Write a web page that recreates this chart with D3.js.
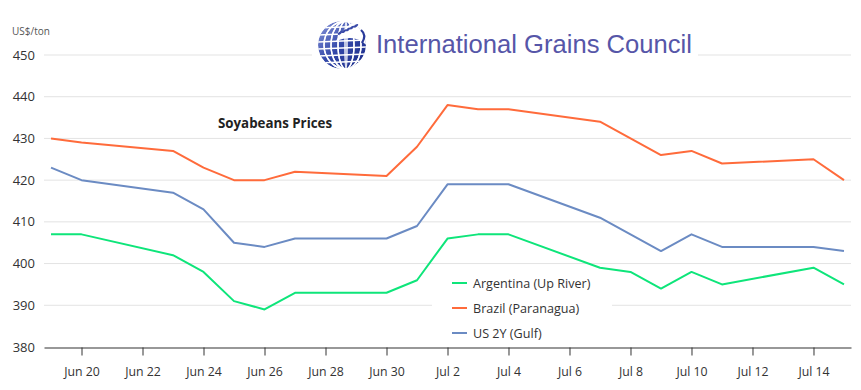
<!DOCTYPE html>
<html><head><meta charset="utf-8">
<script src="https://cdn.jsdelivr.net/npm/d3@7"></script>
<style>
body{margin:0;background:#fff;}
svg{display:block;font-family:"Open Sans","Noto Sans",sans-serif;}
</style></head>
<body><svg id="c" width="861" height="390"></svg>
<script>
const dates = ["2023-06-19","2023-06-20","2023-06-23","2023-06-24","2023-06-25","2023-06-26","2023-06-27","2023-06-30","2023-07-01","2023-07-02","2023-07-03","2023-07-04","2023-07-07","2023-07-08","2023-07-09","2023-07-10","2023-07-11","2023-07-14","2023-07-15"];
const argentina = [407,407,402,398,391,389,393,393,396,406,407,407,399,398,394,398,395,399,395];
const brazil    = [430,429,427,423,420,420,422,421,428,438,437,437,434,430,426,427,424,425,420];
const us2y      = [423,420,417,413,405,404,406,406,409,419,419,419,411,407,403,407,404,404,403];
const seriesNames = ["Argentina (Up River)","Brazil (Paranagua)","US 2Y (Gulf)"];
const seriesColors = ["#0ee57a","#ff6b3b","#6b8bc3"];
const yTicks = [380,390,400,410,420,430,440,450];
const xTickDates = ["2023-06-20","2023-06-22","2023-06-24","2023-06-26","2023-06-28","2023-06-30","2023-07-02","2023-07-04","2023-07-06","2023-07-08","2023-07-10","2023-07-12","2023-07-14"];
const titleText = "Soyabeans Prices";
const unitText = "US$/ton";
const logoText = "International Grains Council";

const svg = d3.select("#c");
const parse = d3.utcParse("%Y-%m-%d");
const D = dates.map(parse);
const pad = 0.23*864e5;
const x = d3.scaleUtc().domain([+D[0]-pad, +D[D.length-1]+pad]).range([44, 851]);
const y = d3.scaleLinear().domain([380,450]).range([347,55]);

// gridlines
svg.append("g").selectAll("line").data(yTicks.slice(1)).join("line")
  .attr("x1",44).attr("x2",851).attr("y1",d=>y(d)).attr("y2",d=>y(d))
  .attr("stroke","#e3e3e3").attr("stroke-width",1);

// y labels
svg.append("g").selectAll("text").data(yTicks).join("text")
  .attr("x",35).attr("y",d=>y(d)+4.5).attr("text-anchor","end")
  .attr("font-size",13).attr("fill","#333").text(d=>d);

svg.append("text").attr("x",12).attr("y",35).attr("font-size",10).attr("fill","#555").text(unitText);

// x axis
const xAxis = d3.axisBottom(x).tickValues(xTickDates.map(parse)).tickFormat(d3.utcFormat("%b %-d")).tickSize(8).tickSizeOuter(0);
const gx = svg.append("g").attr("transform","translate(0,347.5)").call(xAxis);
gx.select(".domain").attr("stroke","#333").attr("stroke-width",1.2);
gx.selectAll(".tick line").attr("stroke","#333");
gx.selectAll(".tick text").attr("font-size",12.3).attr("fill","#333").attr("dy","1.45em").attr("font-family","'Open Sans','Noto Sans',sans-serif");

// lines
const all = [argentina, brazil, us2y];
const line = d3.line().x((d,i)=>x(D[i])).y(d=>y(d));
[1,2,0].forEach(k=>{
  svg.append("path").datum(all[k]).attr("d",line).attr("fill","none")
    .attr("stroke",seriesColors[k]).attr("stroke-width",2).attr("stroke-linejoin","round");
});

// title
svg.append("text").attr("x",275).attr("y",127.5).attr("text-anchor","middle")
  .attr("font-size",13.3).attr("font-weight","bold").attr("fill","#222").text(titleText);

// legend
const lg = svg.append("g");
lg.append("rect").attr("x",432).attr("y",271).attr("width",180).attr("height",74).attr("fill","#fff");
seriesNames.forEach((n,i)=>{
  const yy = 283 + i*25;
  lg.append("line").attr("x1",452).attr("x2",467).attr("y1",yy).attr("y2",yy)
    .attr("stroke",seriesColors[i]).attr("stroke-width",2);
  lg.append("text").attr("x",473).attr("y",yy+4.5).attr("font-size",12.6).attr("fill","#333").text(n);
});

// logo
const logo = svg.append("g");
logo.append("rect").attr("x",312).attr("y",12).attr("width",386).attr("height",62).attr("fill","#fff");
const defs = svg.append("defs");
const gr = defs.append("linearGradient").attr("id","gb").attr("x1","0").attr("y1","0").attr("x2","1").attr("y2","1");
gr.append("stop").attr("offset","0").attr("stop-color","#8a98dc");
gr.append("stop").attr("offset","0.5").attr("stop-color","#3247a8");
gr.append("stop").attr("offset","1").attr("stop-color","#1b2a86");
defs.append("clipPath").attr("id","gc").append("circle").attr("cx",342).attr("cy",45).attr("r",24);
const cx=342, cy=45, r=24;
const globe = logo.append("g").attr("clip-path","url(#gc)");
globe.append("circle").attr("cx",cx).attr("cy",cy).attr("r",r).attr("fill","url(#gb)");
for(let k=-3;k<=3;k++){
  globe.append("ellipse").attr("cx",cx+4).attr("cy",cy).attr("rx",Math.abs(k)*7+1).attr("ry",r)
    .attr("fill","none").attr("stroke","#fff").attr("stroke-width",1.4);
}
for(let k=-3;k<=3;k++){
  globe.append("line").attr("x1",cx-r).attr("x2",cx+r).attr("y1",cy+k*7+4).attr("y2",cy+k*7+2)
    .attr("stroke","#fff").attr("stroke-width",1.4);
}
globe.append("path").attr("d",`M${cx-6},${cy-4} Q${cx+8},${cy-30} ${cx+30},${cy-22} L${cx+30},${cy+8} Q${cx+18},${cy-14} ${cx-6},${cy-4}Z`).attr("fill","#fff");
for(let k=0;k<5;k++){
  logo.append("ellipse").attr("cx",cx-2+k*4).attr("cy",cy-12-k*1.8).attr("rx",2.6).attr("ry",1.2)
    .attr("transform",`rotate(-35,${cx-2+k*4},${cy-12-k*1.8})`).attr("fill","#3a4aa8");
}
logo.append("path").attr("d",`M${cx+19},${cy-15} Q${cx+25},${cy-10} ${cx+20},${cy-2}`).attr("fill","none").attr("stroke","#2a3a9a").attr("stroke-width",2.2);
logo.append("text").attr("x",376).attr("y",52.5).attr("font-family","'Liberation Sans',Arial,sans-serif")
  .attr("font-size",26).attr("fill","#5656a8").attr("textLength",316).attr("lengthAdjust","spacingAndGlyphs").text(logoText);
</script></body></html>
